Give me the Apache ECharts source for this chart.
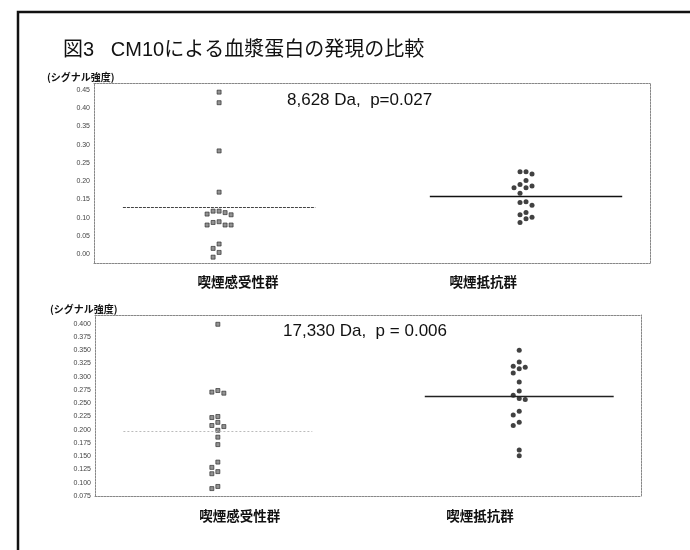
<!DOCTYPE html>
<html>
<head>
<meta charset="utf-8">
<script src="https://cdn.jsdelivr.net/npm/echarts@6/dist/echarts.min.js"></script>
<style>
  html, body { margin: 0; padding: 0; background: #fff; }
  #chart { width: 690px; height: 550px; }
</style>
</head>
<body>
<div id="chart"></div>
<script>
// Groups compared on both panels
const groups = ['喫煙感受性群', '喫煙抵抗群'];

// Signal intensity per subject, 8,628 Da peak
const peak8628Susceptible = [0.444, 0.415, 0.283, 0.170, 0.108, 0.114, 0.118, 0.118, 0.110,
  0.080, 0.080, 0.089, 0.087, 0.080, 0.028, 0.016, 0.005, -0.008];
const peak8628Resistant = [0.220, 0.226, 0.226, 0.202, 0.182, 0.187, 0.191, 0.182, 0.167,
  0.142, 0.144, 0.134, 0.108, 0.114, 0.101, 0.097, 0.087];

// Signal intensity per subject, 17,330 Da peak
const peak17330Susceptible = [0.399, 0.269, 0.274, 0.271, 0.225, 0.223, 0.214, 0.208, 0.206,
  0.199, 0.186, 0.172, 0.139, 0.129, 0.121, 0.117, 0.093, 0.089];
const peak17330Resistant = [0.350, 0.328, 0.318, 0.315, 0.320, 0.307, 0.290, 0.273, 0.265,
  0.259, 0.257, 0.235, 0.228, 0.214, 0.208, 0.162, 0.151];

// Tick labels of the two value axes
const ticks8628 = [0.00, 0.05, 0.10, 0.15, 0.20, 0.25, 0.30, 0.35, 0.40, 0.45];
const ticks17330 = [0.075, 0.100, 0.125, 0.150, 0.175, 0.200, 0.225, 0.250, 0.275, 0.300,
  0.325, 0.350, 0.375, 0.400];

const titleText = '図3   CM10による血漿蛋白の発現の比較';
const axisName = '(シグナル強度)';
const notes = ['8,628 Da,  p=0.027', '17,330 Da,  p = 0.006'];

const LATIN = "'Liberation Sans', 'Noto Sans CJK JP', sans-serif";
const CJK = "'Noto Sans CJK JP', 'Liberation Sans', sans-serif";

const panels = [
  {
    grid: { left: 94, top: 83, width: 556, height: 180 },
    yMin: -0.024, yMax: 0.469, ticks: ticks8628, digits: 2,
    sets: [peak8628Susceptible, peak8628Resistant],
    labelAt: [0.259, 0.700], labelMargin: 12,
    meanStyles: [
      { color: '#444', width: 1, type: [3, 1] },
      { color: '#111', width: 1.3, type: 'solid' }
    ],
    note: notes[0], noteX: 287, noteY: 102,
    nameX: 47, nameY: 78
  },
  {
    grid: { left: 95, top: 315, width: 546, height: 181 },
    yMin: 0.075, yMax: 0.4165, ticks: ticks17330, digits: 3,
    sets: [peak17330Susceptible, peak17330Resistant],
    labelAt: [0.265, 0.705], labelMargin: 13,
    meanStyles: [
      { color: '#bbb', width: 1, type: [2, 2] },
      { color: '#222', width: 1.3, type: 'solid' }
    ],
    note: notes[1], noteX: 283, noteY: 333,
    nameX: 50, nameY: 310
  }
];

const groupCenters = [0.225, 0.777];
const meanHalfWidth = 0.173;
const laneStep = 6;   // px between neighbouring dots of one row
const minGap = 5.5;   // px a dot needs above/below another in its lane

// Simple swarm: place each value in the nearest lane that has room for it
function swarm(values, center, p) {
  const h = p.grid.height, w = p.grid.width;
  const order = values.map((v, i) => i).sort((a, b) => values[b] - values[a]);
  const lanes = {};
  const out = [];
  order.forEach(i => {
    const py = (values[i] - p.yMin) / (p.yMax - p.yMin) * h;
    for (const lane of [0, -1, 1, -2, 2, -3, 3, -4, 4]) {
      const used = lanes[lane] || (lanes[lane] = []);
      if (used.every(q => Math.abs(q - py) >= minGap)) {
        used.push(py);
        out[i] = [center + lane * laneStep / w, values[i]];
        break;
      }
    }
  });
  return out;
}

const mean = a => a.reduce((s, v) => s + v, 0) / a.length;

const grid = [], xAxis = [], yAxis = [], series = [], graphic = [];
const frameLine = { show: true, onZero: false, lineStyle: { color: '#888', width: 1, type: [2, 1] } };

panels.forEach((p, k) => {
  grid.push(Object.assign({ containLabel: false }, p.grid));

  // bottom axis: frame edge + group labels
  xAxis.push({
    type: 'value', gridIndex: k, min: 0, max: 1, position: 'bottom',
    axisLine: frameLine, axisTick: { show: false }, splitLine: { show: false },
    axisLabel: {
      customValues: p.labelAt,
      formatter: v => groups[p.labelAt.indexOf(v)] || '',
      margin: p.labelMargin,
      fontSize: 13.5, fontWeight: 'bold', color: '#111', fontFamily: CJK
    }
  });
  // top axis: frame edge only
  xAxis.push({
    type: 'value', gridIndex: k, min: 0, max: 1, position: 'top',
    axisLine: frameLine, axisTick: { show: false }, axisLabel: { show: false },
    splitLine: { show: false }
  });
  yAxis.push({
    type: 'value', gridIndex: k, min: p.yMin, max: p.yMax, position: 'left',
    axisLine: frameLine, axisTick: { show: false }, splitLine: { show: false },
    axisLabel: {
      customValues: p.ticks,
      formatter: v => v.toFixed(p.digits),
      margin: 4, fontSize: 7, color: '#444', fontFamily: LATIN
    }
  });
  yAxis.push({
    type: 'value', gridIndex: k, min: p.yMin, max: p.yMax, position: 'right',
    axisLine: frameLine, axisTick: { show: false }, axisLabel: { show: false },
    splitLine: { show: false }
  });

  p.sets.forEach((vals, g) => {
    const m = mean(vals);
    const c = groupCenters[g];
    series.push({
      type: 'scatter',
      xAxisIndex: k * 2, yAxisIndex: k * 2,
      data: swarm(vals, c, p),
      symbol: g === 0 ? 'rect' : 'circle',
      symbolSize: g === 0 ? 4 : 5,
      itemStyle: g === 0
        ? { color: '#777', borderColor: '#222', borderWidth: 0.8 }
        : { color: '#111' },
      silent: true,
      markLine: {
        silent: true, symbol: 'none', label: { show: false },
        lineStyle: p.meanStyles[g],
        data: [[{ coord: [c - meanHalfWidth, m] }, { coord: [c + meanHalfWidth, m] }]]
      }
    });
  });

  graphic.push({
    type: 'text', left: p.noteX, top: p.noteY - 10,
    style: { text: p.note, fontSize: 17, fill: '#111', fontFamily: LATIN }
  });
  graphic.push({
    type: 'text', left: p.nameX, top: p.nameY - 6,
    style: { text: axisName, fontSize: 10, fontWeight: 'bold', fill: '#111', fontFamily: CJK }
  });
});

graphic.push({
  type: 'text', left: 63, top: 40,
  style: { text: titleText, fontSize: 20, fill: '#111', fontFamily: LATIN }
});
graphic.push({
  type: 'rect', silent: true,
  shape: { x: 18, y: 12, width: 720, height: 600 },
  style: { fill: 'none', stroke: '#111', lineWidth: 2.5 }
});

const chart = echarts.init(document.getElementById('chart'), null, { renderer: 'canvas' });
chart.setOption({
  animation: false,
  backgroundColor: '#fff',
  grid, xAxis, yAxis, series, graphic
});
</script>
</body>
</html>
